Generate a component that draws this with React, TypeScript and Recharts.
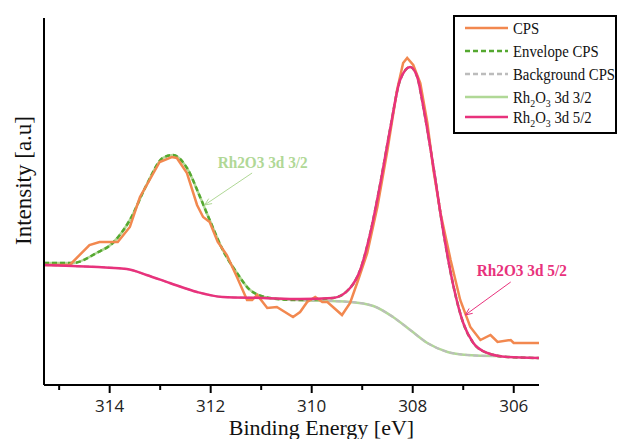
import React from "react";
import {
  LineChart,
  Line,
  XAxis,
  YAxis,
  Legend,
  ReferenceLine,
  ReferenceDot,
} from "recharts";

// 軸の目盛り (eV)
const energyTicks = [315, 314, 313, 312, 311, 310, 309, 308, 307, 306];

// 測定スペクトル CPS
const cpsEnergy = [
  315.3, 314.79, 314.4, 314.2, 313.84, 313.6, 313.4, 313.21, 313.01, 312.77,
  312.67, 312.47, 312.27, 312.15, 312.02, 311.86, 311.68, 311.48, 311.28, 311.18,
  311.08, 310.88, 310.69, 310.37, 310.23, 310.09, 309.93, 309.79, 309.69, 309.4,
  309.24, 309.08, 308.9, 308.7, 308.5, 308.31, 308.19, 308.11, 307.99, 307.85,
  307.71, 307.59, 307.45, 307.25, 307.06, 306.86, 306.66, 306.46, 306.32, 306.06,
  306.0, 305.5,
];
const cpsIntensity = [
  120, 120, 140, 143, 143, 158, 188, 205, 223, 228,
  227, 212, 180, 168, 163, 143, 130, 108, 85, 85,
  90, 77, 78, 68, 73, 83, 88, 83, 83, 70,
  82, 105, 132, 178, 235, 295, 322, 327, 320, 302,
  262, 215, 172, 125, 85, 58, 45, 50, 43, 45,
  42, 42,
];

// エンベロープ
const envelopeEnergy = [
  315.3, 314.73, 314.26, 313.94, 313.6, 313.27, 312.95, 312.75, 312.47, 312.21,
  312.02, 311.76, 311.48, 311.22, 310.83, 310.29, 309.58, 309.24, 309.04, 308.84,
  308.64, 308.44, 308.25, 308.05, 307.91, 307.79, 307.59, 307.39, 307.19, 307.0,
  306.8, 306.52, 306.12, 305.5,
];
const envelopeIntensity = [
  122, 122, 132, 142, 165, 200, 227, 230, 217, 188,
  165, 135, 112, 95, 87, 85, 87, 97, 115, 152,
  202, 258, 305, 318, 308, 278, 218, 152, 98, 62,
  42, 32, 28, 27,
];

// バックグラウンド
const backgroundEnergy = [
  315.3, 314.73, 313.66, 313.27, 312.81, 312.27, 311.76, 310.96, 310.23, 309.24,
  308.78, 308.39, 308.05, 307.71, 307.31, 306.92, 306.4, 306.26,
];
const backgroundIntensity = [
  120, 119, 116, 110, 102, 93, 88, 87, 85, 83,
  79, 68, 55, 42, 33, 30, 29, 29,
];

// Rh2O3 3d 3/2 成分
const d32Energy = [
  315.3, 314.73, 314.26, 313.94, 313.6, 313.27, 312.95, 312.75, 312.47, 312.21,
  312.02, 311.76, 311.48, 311.22, 310.83, 310.29, 309.24, 308.78, 308.39, 308.05,
  307.71, 307.31, 306.92, 306.4, 306.26,
];
const d32Intensity = [
  122, 122, 132, 142, 165, 200, 227, 230, 217, 188,
  165, 135, 112, 95, 87, 85, 83, 79, 68, 55,
  42, 33, 30, 29, 29,
];

// Rh2O3 3d 5/2 成分
const d52Energy = [
  315.3, 314.73, 313.66, 313.27, 312.81, 312.27, 311.76, 310.96, 310.23, 309.58,
  309.24, 309.04, 308.84, 308.64, 308.44, 308.25, 308.05, 307.91, 307.79, 307.59,
  307.39, 307.19, 307.0, 306.8, 306.52, 306.12, 305.5,
];
const d52Intensity = [
  120, 119, 116, 110, 102, 93, 88, 87, 86, 87,
  97, 115, 152, 202, 258, 305, 318, 308, 278, 218,
  152, 98, 62, 42, 32, 28, 27,
];

const legendOrder = [
  "CPS",
  "Envelope CPS",
  "Background CPS",
  "Rh2O3 3d 3/2",
  "Rh2O3 3d 5/2",
];

const COLORS = {
  cps: "#f2884f",
  envelope: "#55a830",
  background: "#bcbcbc",
  d32: "#b0d896",
  d52: "#e8327c",
};

const zip = (xs: number[], ys: number[]) =>
  xs.map((x, i) => ({ energy: x, value: ys[i] }));

const cpsData = zip(cpsEnergy, cpsIntensity);
const envelopeData = zip(envelopeEnergy, envelopeIntensity);
const backgroundData = zip(backgroundEnergy, backgroundIntensity);
const d32Data = zip(d32Energy, d32Intensity);
const d52Data = zip(d52Energy, d52Intensity);

const serif = "'Liberation Serif', 'Times New Roman', serif";

const EnergyTick = (props: any) => {
  const { x, y, payload } = props;
  const major = payload.value % 2 === 0;
  return (
    <g>
      <line x1={x} y1={y} x2={x} y2={y + (major ? 8 : 5)} stroke="#000" strokeWidth={2} />
      {major && (
        <text
          x={x}
          y={y + 27}
          textAnchor="middle"
          fontFamily="'Open Sans', sans-serif"
          fontSize={17}
          fill="#222"
        >
          {payload.value}
        </text>
      )}
    </g>
  );
};

const Arrow = (props: any) => {
  const { x1, y1, x2, y2, stroke } = props;
  const a = Math.atan2(y2 - y1, x2 - x1);
  const bx = x2 - 7 * Math.cos(a);
  const by = y2 - 7 * Math.sin(a);
  const p1 = `${bx + 3 * Math.sin(a)},${by - 3 * Math.cos(a)}`;
  const p2 = `${bx - 3 * Math.sin(a)},${by + 3 * Math.cos(a)}`;
  return (
    <g>
      <line x1={x1} y1={y1} x2={x2} y2={y2} stroke={stroke} strokeWidth={1} />
      <polyline points={`${p1} ${x2},${y2} ${p2}`} fill="none" stroke={stroke} strokeWidth={1} />
    </g>
  );
};

const annotation = (text: string, color: string) => (props: any) => (
  <text
    x={props.cx}
    y={props.cy}
    dy="0.35em"
    textAnchor="middle"
    fontFamily={serif}
    fontSize={16}
    fontWeight="bold"
    fill={color}
    textLength={90}
    lengthAdjust="spacingAndGlyphs"
  >
    {text}
  </text>
);

const LegendName = ({ name }: { name: string }) => {
  if (!name.startsWith("Rh2O3")) return <>{name}</>;
  return (
    <>
      <tspan>Rh</tspan>
      <tspan fontSize={11} dy={4}>2</tspan>
      <tspan dy={-4}>O</tspan>
      <tspan fontSize={11} dy={4}>3</tspan>
      <tspan dy={-4}>{name.slice(5)}</tspan>
    </>
  );
};

const rowY = [13, 36, 59, 82, 102];

const renderLegend = (props: any) => {
  const items = [...(props.payload || [])].sort(
    (a: any, b: any) => legendOrder.indexOf(a.value) - legendOrder.indexOf(b.value)
  );
  return (
    <svg width={164} height={119}>
      <rect x={1} y={1} width={162} height={117} fill="#fff" stroke="#000" strokeWidth={2} />
      {items.map((it: any, i: number) => (
        <g key={it.value}>
          <line
            x1={12}
            x2={55}
            y1={rowY[i]}
            y2={rowY[i]}
            stroke={it.color}
            strokeWidth={2.5}
            strokeDasharray={it.payload?.strokeDasharray}
          />
          <text
            transform={`translate(60 ${rowY[i] + 5.5}) scale(0.895 1)`}
            fontFamily={serif}
            fontSize={16.5}
            fill="#111"
          >
            <LegendName name={it.value} />
          </text>
        </g>
      ))}
    </svg>
  );
};

export default function App() {
  return (
    <div style={{ position: "absolute", left: 0, top: 0, width: 617, height: 439, background: "#fff" }}>
      <LineChart width={617} height={439} margin={{ top: 18, right: 78, bottom: 0, left: 0 }}>
        <XAxis
          type="number"
          dataKey="energy"
          domain={[305.5, 315.3]}
          reversed
          allowDataOverflow
          ticks={energyTicks}
          interval={0}
          height={54}
          tickSize={0}
          tickMargin={0}
          tickLine={false}
          tick={<EnergyTick />}
          axisLine={{ stroke: "#000", strokeWidth: 2 }}
          label={{
            content: (p: any) => (
              <text
                x={p.viewBox.x + p.viewBox.width / 2 + 30}
                y={p.viewBox.y + 50}
                textAnchor="middle"
                fontFamily={serif}
                fontSize={22}
                fill="#111"
              >
                Binding Energy [eV]
              </text>
            ),
          }}
        />
        <YAxis
          type="number"
          dataKey="value"
          domain={[0, 367]}
          allowDataOverflow
          width={44}
          tick={false}
          tickLine={false}
          axisLine={{ stroke: "#000", strokeWidth: 2 }}
          label={{
            content: (p: any) => {
              const cx = p.viewBox.x + 31;
              const cy = p.viewBox.y + p.viewBox.height / 2 - 21;
              return (
                <text
                  x={cx}
                  y={cy}
                  transform={`rotate(-90 ${cx} ${cy})`}
                  textAnchor="middle"
                  fontFamily={serif}
                  fontSize={23}
                  fill="#111"
                >
                  Intensity [a.u]
                </text>
              );
            },
          }}
        />
        <Legend
          layout="horizontal"
          verticalAlign="middle"
          align="center"
          content={renderLegend}
          wrapperStyle={{ left: 453, top: 15, width: 164, height: 119 }}
        />
        <Line
          data={d32Data}
          dataKey="value"
          name="Rh2O3 3d 3/2"
          type="monotone"
          stroke={COLORS.d32}
          strokeWidth={2.5}
          dot={false}
          isAnimationActive={false}
        />
        <Line
          data={backgroundData}
          dataKey="value"
          name="Background CPS"
          type="monotone"
          stroke={COLORS.background}
          strokeWidth={2}
          strokeDasharray="5 3"
          dot={false}
          isAnimationActive={false}
        />
        <Line
          data={envelopeData}
          dataKey="value"
          name="Envelope CPS"
          type="monotone"
          stroke={COLORS.envelope}
          strokeWidth={2.5}
          strokeDasharray="5 3"
          dot={false}
          isAnimationActive={false}
        />
        <Line
          data={cpsData}
          dataKey="value"
          name="CPS"
          type="linear"
          stroke={COLORS.cps}
          strokeWidth={2.5}
          dot={false}
          isAnimationActive={false}
        />
        <Line
          data={d52Data}
          dataKey="value"
          name="Rh2O3 3d 5/2"
          type="monotone"
          stroke={COLORS.d52}
          strokeWidth={2.5}
          dot={false}
          isAnimationActive={false}
        />
        <ReferenceLine
          segment={[
            { x: 311.18, y: 212 },
            { x: 312.12, y: 180 },
          ]}
          stroke={COLORS.d32}
          shape={<Arrow />}
        />
        <ReferenceLine
          segment={[
            { x: 306.06, y: 103 },
            { x: 306.96, y: 70 },
          ]}
          stroke={COLORS.d52}
          shape={<Arrow />}
        />
        <ReferenceDot x={310.97} y={223} r={0} shape={annotation("Rh2O3 3d 3/2", COLORS.d32)} />
        <ReferenceDot x={305.84} y={115} r={0} shape={annotation("Rh2O3 3d 5/2", COLORS.d52)} />
      </LineChart>
    </div>
  );
}
